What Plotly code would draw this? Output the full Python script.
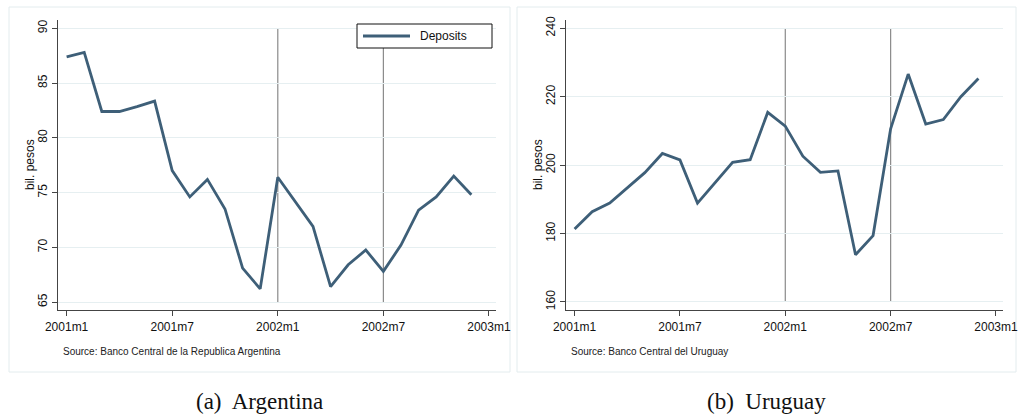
import plotly.graph_objects as go

# ---- data ----
months = ["2001m1", "2001m2", "2001m3", "2001m4", "2001m5", "2001m6",
          "2001m7", "2001m8", "2001m9", "2001m10", "2001m11", "2001m12",
          "2002m1", "2002m2", "2002m3", "2002m4", "2002m5", "2002m6",
          "2002m7", "2002m8", "2002m9", "2002m10", "2002m11", "2002m12"]
argentina = [87.4, 87.8, 82.4, 82.4, 82.85, 83.35, 77.0, 74.6, 76.2, 73.5,
             68.1, 66.2, 76.4, 74.1, 71.9, 66.4, 68.4, 69.75, 67.8, 70.2,
             73.4, 74.6, 76.5, 74.8]
uruguay = [181.3, 186.4, 188.9, 193.3, 197.8, 203.4, 201.5, 188.9, 194.9, 200.8,
           201.6, 215.4, 211.4, 202.6, 197.9, 198.3, 173.8, 179.4, 210.6, 226.6,
           212.0, 213.3, 220.0, 225.3]
tick_labels = ["2001m1", "2001m7", "2002m1", "2002m7", "2003m1"]
tick_pos = [0, 6, 12, 18, 24]
event_months = ["2002m1", "2002m7"]
arg_ticks = [65, 70, 75, 80, 85, 90]
uru_ticks = [160, 180, 200, 220, 240]
series_name = "Deposits"
y_title = "bil. pesos"
sources = ["Source: Banco Central de la Republica Argentina",
           "Source: Banco Central del Uruguay"]
captions = ["(a)  Argentina", "(b)  Uruguay"]

W, H = 1020, 416
LINE = "#3e5f78"
GRID = "#e6eff1"
FRAME = "#e3ecee"
SANS = "Liberation Sans, Arial, sans-serif"

x_idx = list(range(len(months)))

def px(x):
    return x / W

def py(y):
    return (H - y) / H

fig = go.Figure()
fig.add_trace(go.Scatter(x=x_idx, y=argentina, mode="lines", name=series_name,
                         line=dict(color=LINE, width=2.8), xaxis="x", yaxis="y",
                         showlegend=False))
fig.add_trace(go.Scatter(x=x_idx, y=uruguay, mode="lines", name=series_name,
                         line=dict(color=LINE, width=2.8), xaxis="x2", yaxis="y2",
                         showlegend=False))

axis_font = dict(family=SANS, size=12, color="#111")
common_x = dict(tickmode="array", tickvals=tick_pos, ticktext=tick_labels,
                range=[-0.49, 24.4], showgrid=False, zeroline=False,
                showline=True, linecolor="#444", linewidth=1.2, automargin=False,
                ticks="outside", ticklen=5, tickcolor="#444", tickfont=axis_font)
common_y = dict(showgrid=True, gridcolor=GRID, gridwidth=1, zeroline=False,
                showline=True, linecolor="#444", linewidth=1.2, automargin=False,
                ticks="outside", ticklen=5, tickcolor="#444", tickangle=-90,
                tickfont=axis_font)

fig.update_layout(
    width=W, height=H, margin=dict(l=0, r=0, t=0, b=0, autoexpand=False),
    paper_bgcolor="white", plot_bgcolor="white",
    xaxis=dict(domain=[px(58), px(496)], anchor="y", **common_x),
    yaxis=dict(domain=[py(310), py(20)], anchor="x", range=[64.27, 90.76],
               tickvals=arg_ticks, **common_y),
    xaxis2=dict(domain=[px(566), px(1003)], anchor="y2", **common_x),
    yaxis2=dict(domain=[py(310), py(20)], anchor="x2", range=[157.66, 242.4],
                tickvals=uru_ticks, **common_y),
    showlegend=False,
)

shapes = []
# panel frames
for x0, x1 in [(9, 510), (517, 1016)]:
    shapes.append(dict(type="rect", xref="paper", yref="paper",
                       x0=px(x0), x1=px(x1), y0=py(372), y1=py(7),
                       line=dict(color=FRAME, width=1), layer="below"))
# event lines
for m in event_months:
    xm = months.index(m)
    shapes.append(dict(type="line", xref="x", yref="y", x0=xm, x1=xm,
                       y0=arg_ticks[0], y1=arg_ticks[-1],
                       line=dict(color="#8a8a8a", width=1.2), layer="below"))
    shapes.append(dict(type="line", xref="x2", yref="y2", x0=xm, x1=xm,
                       y0=uru_ticks[0], y1=uru_ticks[-1],
                       line=dict(color="#8a8a8a", width=1.2), layer="below"))
# legend box (left panel)
shapes.append(dict(type="rect", xref="paper", yref="paper",
                   x0=px(357), x1=px(492), y0=py(48), y1=py(24),
                   line=dict(color="#111", width=1), fillcolor="white", layer="above"))
shapes.append(dict(type="line", xref="paper", yref="paper",
                   x0=px(363), x1=px(410), y0=py(36), y1=py(36),
                   line=dict(color=LINE, width=2.8), layer="above"))
fig.update_layout(shapes=shapes)

annotations = [dict(xref="paper", yref="paper", x=px(418), y=py(36),
                    xanchor="left", yanchor="middle", showarrow=False,
                    text=series_name, font=dict(family=SANS, size=12, color="#111"))]
for xt in [30, 538]:
    annotations.append(dict(xref="paper", yref="paper", x=px(xt), y=py(165),
                            xanchor="center", yanchor="middle", showarrow=False,
                            textangle=-90, text=y_title,
                            font=dict(family=SANS, size=12, color="#111")))
for xs, txt in zip([61, 569], sources):
    annotations.append(dict(xref="paper", yref="paper", x=px(xs), y=py(351),
                            xanchor="left", yanchor="middle", showarrow=False,
                            text=txt, font=dict(family=SANS, size=10, color="#222")))
for xc, txt in zip([259, 766], captions):
    annotations.append(dict(xref="paper", yref="paper", x=px(xc), y=py(401),
                            xanchor="center", yanchor="middle", showarrow=False,
                            text=txt, font=dict(family="Liberation Serif, Times New Roman, serif",
                                                size=23, color="#111")))
fig.update_layout(annotations=annotations)

fig.write_html("out.html", config={"displayModeBar": False},
               post_script="document.body.style.margin='0';document.body.style.overflow='hidden';")
